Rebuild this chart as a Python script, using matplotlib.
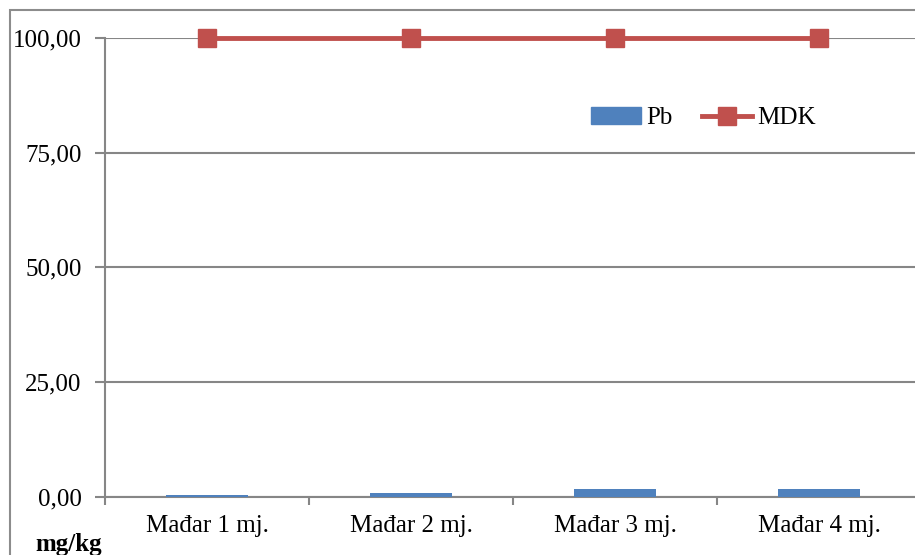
import matplotlib

matplotlib.use("Agg")

import matplotlib.pyplot as plt
import matplotlib.patches as patches
from matplotlib.lines import Line2D
from matplotlib.ticker import FuncFormatter
import numpy as np

categories = ["Mađar 1 mj.", "Mađar 2 mj.", "Mađar 3 mj.", "Mađar 4 mj."]
pb_values = [0.45, 0.95, 1.8, 1.8]
mdk_values = [100.0, 100.0, 100.0, 100.0]
y_ticks = [0, 25, 50, 75, 100]

W, H = 915, 555
FS = 18
BAR_COLOR = "#4F81BD"
LINE_COLOR = "#C0504D"
GRID_COLOR = "#868686"
plt.rcParams["font.family"] = ["Liberation Serif", "DejaVu Serif"]

fig = plt.figure(figsize=(W / 100, H / 100), dpi=100)
fig.patch.set_facecolor("white")

# outer chart frame (runs off the right and bottom edge)
frame = patches.Rectangle(
    (10 / W, -0.1), 1.2, 1 - 10 / H + 0.1,
    transform=fig.transFigure, fill=False, edgecolor="#8c8c8c", linewidth=1.5,
)
fig.patches.append(frame)

left, right = 105 / W, 921 / W
bottom, top = 1 - 497 / H, 1 - 37.7 / H
ax = fig.add_axes([left, bottom, right - left, top - bottom])

x = np.arange(len(categories))
ax.bar(x, pb_values, width=0.4, color=BAR_COLOR, zorder=3)
ax.plot(x, mdk_values, color=LINE_COLOR, linewidth=3.5, marker="s",
        markersize=13, markerfacecolor=LINE_COLOR, markeredgecolor=LINE_COLOR, zorder=4, clip_on=False)

ax.set_xlim(-0.5, len(categories) - 0.5)
ax.set_ylim(0, 100)
ax.set_yticks(y_ticks)
ax.yaxis.set_major_formatter(FuncFormatter(lambda v, _: f"{v:.2f}".replace(".", ",")))
ax.set_xticks(np.arange(len(categories) + 1) - 0.5)
ax.set_xticklabels([])
ax.set_xticks(x, minor=True)
ax.set_xticklabels(categories, minor=True)
ax.tick_params(axis="x", which="minor", length=0, pad=13, labelsize=FS)
ax.tick_params(axis="x", which="major", length=6, width=1.5, color=GRID_COLOR)
ax.tick_params(axis="y", length=7, width=1.5, color=GRID_COLOR, labelsize=FS, pad=10)

ax.grid(axis="y", color=GRID_COLOR, linewidth=1.5, zorder=0)
for side in ("top", "right"):
    ax.spines[side].set_visible(False)
for side in ("left", "bottom"):
    ax.spines[side].set_color(GRID_COLOR)
    ax.spines[side].set_linewidth(1.5)

handles = [
    patches.Patch(color=BAR_COLOR),
    Line2D([], [], color=LINE_COLOR, linewidth=3.5, marker="s", markersize=13),
]
ax.legend(
    handles, ["Pb", "MDK"], loc="center left", bbox_to_anchor=(591 / W, 1 - 118 / H),
    bbox_transform=fig.transFigure, ncol=2, frameon=False, fontsize=FS,
    borderpad=0, borderaxespad=0,
    handlelength=2.0, handletextpad=0.2, columnspacing=1.2, handleheight=0.65,
)

fig.text(35 / W, 1 - 545 / H, "mg/kg", fontsize=FS, fontweight="bold", va="center", ha="left")

fig.savefig("out.png", dpi=100)
